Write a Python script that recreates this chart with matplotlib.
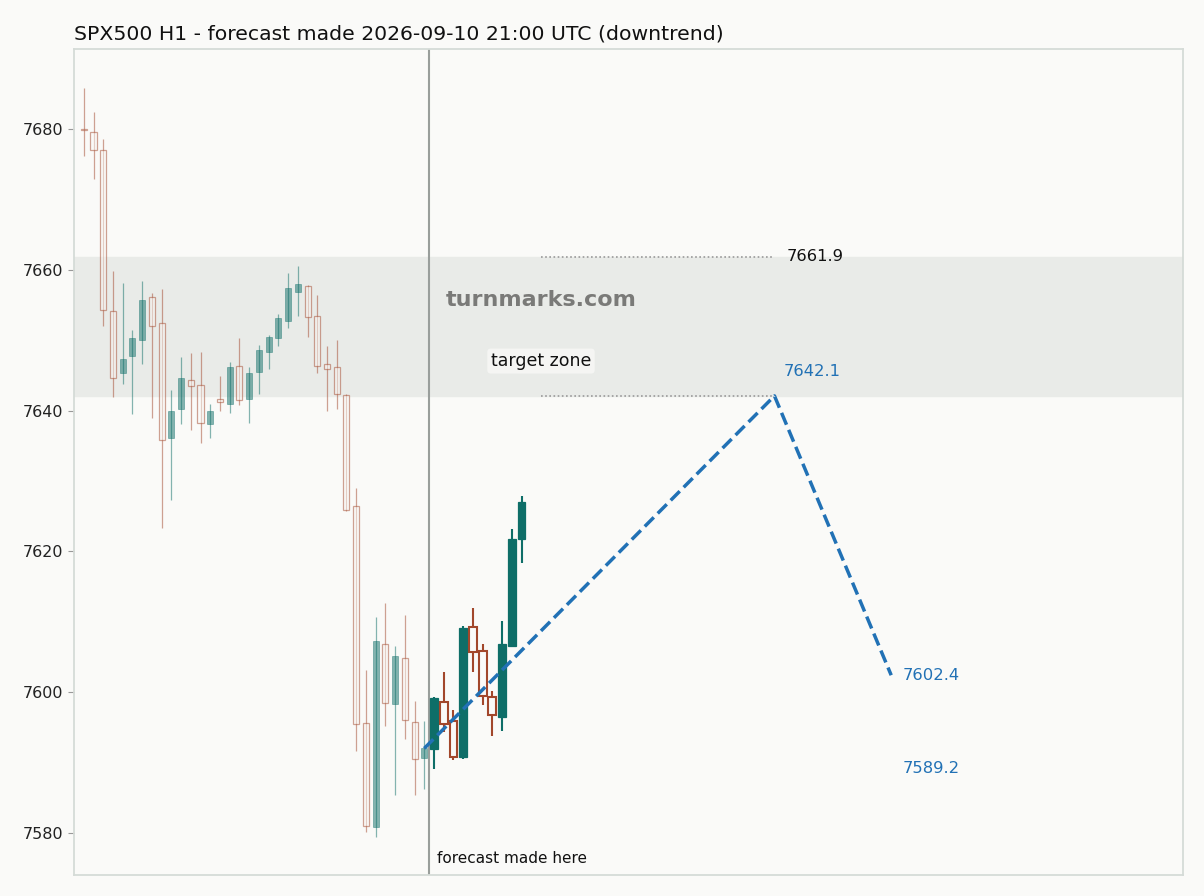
import matplotlib.pyplot as plt
import numpy as np

# hourly candles, history (before the forecast) and the hours after it
hist_open = [7680.0, 7679.6, 7677.1, 7654.1, 7645.3, 7647.8, 7650.1, 7656.2, 7652.4, 7636.1,
             7640.2, 7644.3, 7643.7, 7638.1, 7641.7, 7640.9, 7646.4, 7641.7, 7645.5, 7648.4,
             7650.3, 7652.8, 7656.9, 7657.7, 7653.5, 7646.6, 7646.2, 7642.2, 7626.4, 7595.6,
             7580.8, 7606.9, 7598.3, 7604.8, 7595.7, 7590.6]
hist_high = [7685.9, 7682.5, 7678.6, 7659.9, 7658.2, 7651.5, 7658.4, 7656.7, 7657.3, 7643.0,
             7647.6, 7648.2, 7648.4, 7640.9, 7644.9, 7646.9, 7650.3, 7646.2, 7649.4, 7650.7,
             7653.8, 7659.5, 7660.5, 7657.9, 7656.4, 7649.2, 7650.1, 7642.4, 7629.0, 7603.1,
             7610.7, 7612.7, 7606.6, 7611.0, 7598.8, 7595.9]
hist_low = [7676.2, 7672.9, 7652.0, 7642.0, 7643.8, 7639.5, 7646.7, 7639.0, 7623.3, 7627.3,
            7638.1, 7637.2, 7635.4, 7636.1, 7639.9, 7639.6, 7640.8, 7638.2, 7642.4, 7645.9,
            7649.2, 7651.8, 7653.4, 7650.4, 7645.4, 7639.9, 7640.2, 7625.8, 7591.6, 7580.1,
            7579.4, 7595.2, 7585.4, 7593.4, 7585.4, 7586.2]
hist_close = [7679.9, 7677.0, 7654.3, 7644.7, 7647.4, 7650.3, 7655.7, 7652.1, 7635.9, 7640.0,
              7644.7, 7643.5, 7638.3, 7639.9, 7641.2, 7646.2, 7641.5, 7645.4, 7648.6, 7650.4,
              7653.1, 7657.4, 7658.0, 7653.3, 7646.4, 7645.9, 7642.3, 7625.9, 7595.4, 7580.9,
              7607.2, 7598.4, 7605.1, 7596.0, 7590.5, 7592.0]

fut_open = [7591.9, 7598.6, 7595.9, 7590.8, 7609.2, 7605.8, 7599.3, 7596.5, 7606.6, 7621.8]
fut_high = [7599.3, 7602.9, 7597.5, 7609.4, 7612.0, 7606.8, 7600.2, 7610.1, 7623.2, 7627.9]
fut_low = [7589.1, 7594.3, 7590.3, 7590.5, 7602.8, 7598.2, 7593.7, 7594.4, 7606.4, 7618.3]
fut_close = [7599.1, 7595.4, 7590.8, 7609.1, 7605.7, 7599.4, 7596.7, 7606.9, 7621.7, 7627.0]

# forecast path (bar index, price)
path_x = [35, 71, 83]
path_y = [7592.0, 7642.1, 7602.4]
zone_low, zone_high = 7642.1, 7661.9
alt_target = 7589.2

UP = "#0e6e68"
DOWN = "#a2472b"
BG = "#fafaf8"


def draw_candles(ax, x0, o, h, l, c, width, lw, alpha):
    x = np.arange(len(o)) + x0
    o, h, l, c = map(np.asarray, (o, h, l, c))
    up = c >= o
    ax.vlines(x[up], l[up], h[up], color=UP, lw=lw, alpha=alpha, zorder=2)
    ax.vlines(x[~up], l[~up], h[~up], color=DOWN, lw=lw, alpha=alpha, zorder=2)
    ax.bar(x[up], (c - o)[up], bottom=o[up], width=width, color=UP,
           edgecolor=UP, lw=lw * 0.6, alpha=alpha, zorder=3)
    ax.bar(x[~up], (c - o)[~up], bottom=o[~up], width=width, facecolor=BG,
           edgecolor=DOWN, lw=lw, alpha=alpha, zorder=3)


fig = plt.figure(figsize=(12.04, 8.96), dpi=100, facecolor=BG)
ax = fig.add_axes([0.0615, 0.0234, 0.9211, 0.9219], facecolor=BG)

n_hist = len(hist_open)
ax.axhspan(zone_low, zone_high, color="#e9ebe8", zorder=0)
ax.hlines([zone_high, zone_low], 47, path_x[1], colors="#999999", lw=1.2,
          linestyles=(0, (1, 1.5)), zorder=1)

draw_candles(ax, 0, hist_open, hist_high, hist_low, hist_close, 0.62, 0.9, 0.5)
draw_candles(ax, n_hist, fut_open, fut_high, fut_low, fut_close, 0.8, 1.5, 1.0)

ax.axvline(n_hist - 0.5, color="#999e9b", lw=1.5, zorder=1)
ax.plot(path_x, path_y, color="#2171b5", lw=2.5, ls="--", zorder=4)

ax.text(path_x[1] + 1.3, zone_high, f"{zone_high:.1f}", fontsize=11.8,
        color="#111111", va="center", ha="left")
ax.text(path_x[1] + 0.9, zone_low + 3.5, f"{zone_low:.1f}", fontsize=11.8,
        color="#2171b5", va="center", ha="left")
ax.text(path_x[2] + 1.2, path_y[2], f"{path_y[2]:.1f}", fontsize=11.8,
        color="#2171b5", va="center", ha="left")
ax.text(path_x[2] + 1.2, alt_target, f"{alt_target:.1f}", fontsize=11.8,
        color="#2171b5", va="center", ha="left")
ax.text(47, zone_low + 0.25 * (zone_high - zone_low), "target zone", fontsize=12.5,
        color="#111111", ha="center", va="center", zorder=5,
        bbox=dict(boxstyle="round,pad=0.2", fc="#f7f7f5", ec="none", alpha=0.9))
ax.text(47, 7655.7, "turnmarks.com", fontsize=16, fontweight="bold",
        color="#7a7a78", ha="center", va="center", zorder=5)
ax.text(n_hist - 0.5 + 0.8, 7576.4, "forecast made here", fontsize=11,
        color="#111111", ha="left", va="center")

ax.set_xlim(-1, 113)
ax.set_ylim(7574.0, 7691.4)
ax.set_xticks([])
ax.set_yticks(np.arange(7580, 7681, 20))
ax.tick_params(axis="y", length=4, color="#999999", labelsize=11.5, labelcolor="#222222")
for s in ax.spines.values():
    s.set_color("#d5dbd7")
    s.set_linewidth(1.3)

ax.set_title("SPX500 H1 - forecast made 2026-09-10 21:00 UTC (downtrend)",
             loc="left", fontsize=14.7, color="#111111", pad=7)

fig.savefig("out.png", dpi=100, facecolor=BG)
